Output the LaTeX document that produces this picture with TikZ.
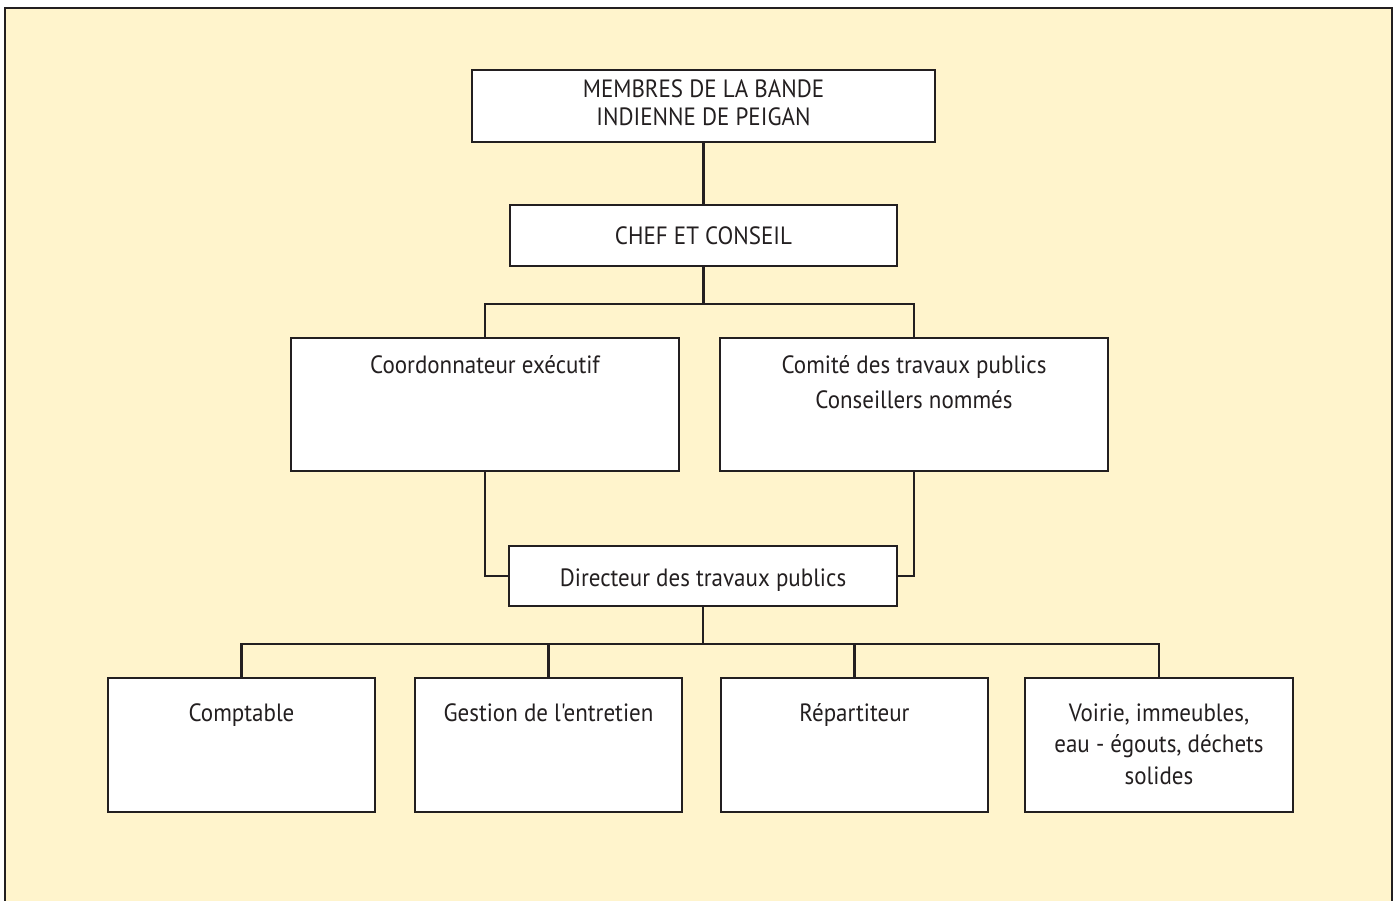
\documentclass[tikz,border=0pt]{standalone}
\usepackage{fontspec}
\setmainfont[FakeStretch=0.92,Ligatures=TeXOff]{PT Sans}
\definecolor{cream}{RGB}{255,244,204}
\definecolor{ink}{RGB}{35,31,32}
\begin{document}
\begin{tikzpicture}[x={(1pt,0)},y={(0,-1pt)},
  box/.style={draw=ink,fill=white,line width=2.8pt,inner sep=0pt,outer sep=0pt,text=ink},
  lbl/.style={anchor=base,align=center,inner sep=0pt,text=ink,font=\fontsize{25}{31.5}\selectfont},
  conn/.style={draw=ink,line width=2.6pt}]
\useasboundingbox (0,0) rectangle (1396,901);
\begin{scope}
\clip (0,0) rectangle (1396,901);
\draw[draw=ink,fill=cream,line width=2.6pt] (5,8) rectangle (1392,920);
\end{scope}
% boxes
\node[box,minimum width=463pt,minimum height=72pt] (top) at (703.5,106) {};
\node[box,minimum width=387pt,minimum height=61pt] (chef) at (703.5,235.5) {};
\node[box,minimum width=388pt,minimum height=133pt] (coord) at (485,404.5) {};
\node[box,minimum width=388pt,minimum height=133pt] (comite) at (914,404.5) {};
\node[box,minimum width=388pt,minimum height=60pt] (dir) at (703,576) {};
\node[box,minimum width=267pt,minimum height=134pt] (compt) at (241.5,745) {};
\node[box,minimum width=267pt,minimum height=134pt] (gest) at (548.5,745) {};
\node[box,minimum width=267pt,minimum height=134pt] (rep) at (854.5,745) {};
\node[box,minimum width=268pt,minimum height=134pt] (voir) at (1159,745) {};
% labels (base anchor = baseline of the last line)
\node[lbl] (ttop) at (703.5,126) {MEMBRES DE LA BANDE\\[-3.5pt]INDIENNE DE PEIGAN};
\node[lbl] (tchef) at (703.5,244) {CHEF ET CONSEIL};
\node[lbl] (tcoord) at (485,373) {Coordonnateur exécutif};
\node[lbl] (tcomite) at (914,408) {Comité des travaux publics\\[3.5pt]Conseillers nommés};
\node[lbl] (tdir) at (703,586) {Directeur des travaux publics};
\node[lbl] (tcompt) at (241.5,721) {Comptable};
\node[lbl] (tgest) at (548.5,721) {Gestion de l'entretien};
\node[lbl] (trep) at (854.5,721) {Répartiteur};
\node[lbl] (tvoir) at (1159,784) {Voirie, immeubles,\\eau - égouts, déchets\\solides};
% connectors
\draw[conn] (top.south) -- (chef.north);
\draw[conn] (chef.south) -- ++(0,38) coordinate (j1);
\draw[conn] (coord.north) |- (j1) -| (comite.north);
\draw[conn] (coord.south) |- (dir.west);
\draw[conn] (comite.south) |- (dir.east);
\draw[conn] (dir.south) -- ++(0,38) coordinate (j2);
\draw[conn] (compt.north) |- (j2) -| (voir.north);
\draw[conn] (gest.north) -- (gest.north |- j2);
\draw[conn] (rep.north) -- (rep.north |- j2);
\end{tikzpicture}
\end{document}
